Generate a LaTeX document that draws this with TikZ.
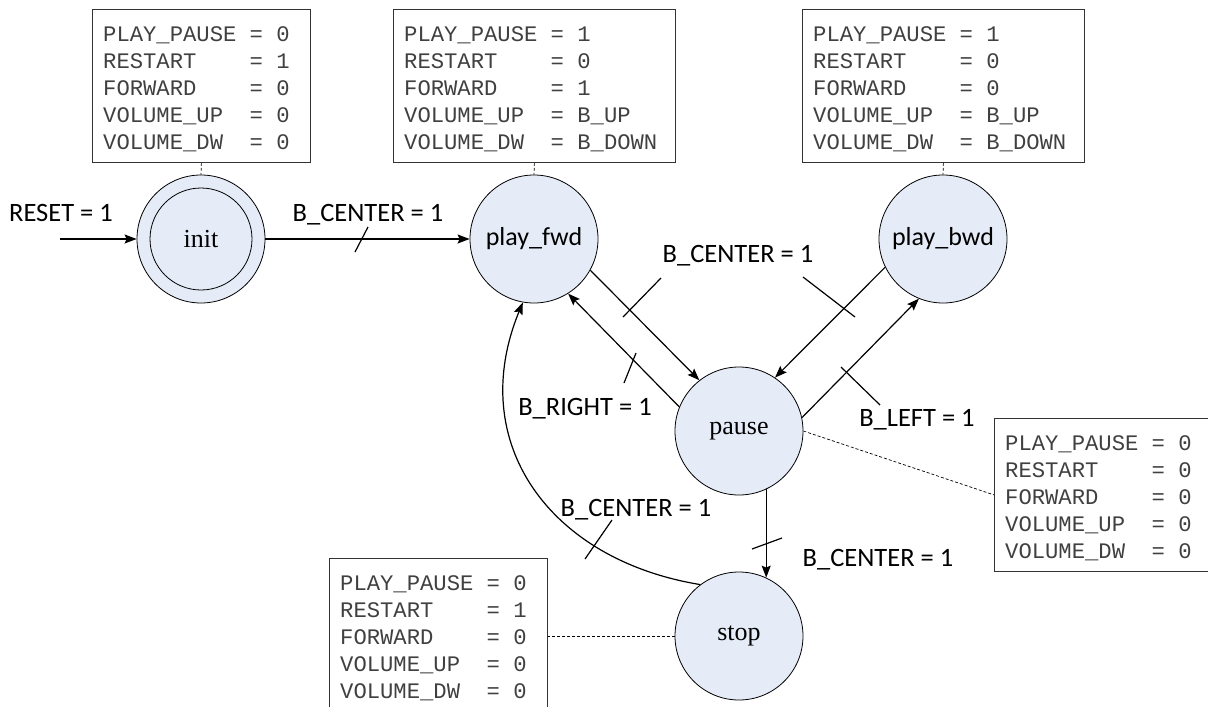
\documentclass[tikz,border=0pt]{standalone}
\usepackage{fontspec}
\setmainfont{Liberation Serif}
\newfontfamily\calib{Carlito}
\newfontfamily\cour{Liberation Mono}
\usetikzlibrary{arrows.meta}
\definecolor{stfill}{RGB}{230,236,247}
\begin{document}
\begin{tikzpicture}[x=1pt,y=-1pt,
  state/.style={circle, draw=black, line width=0.8pt, fill=stfill, minimum size=128pt, inner sep=0pt},
  serifl/.style={font=\fontsize{26}{30}\selectfont},
  sansl/.style={font=\calib\fontsize{26}{30}\selectfont},
  outbox/.style={draw=black!80, line width=0.8pt, minimum width=#1, minimum height=153pt, anchor=north west, inner sep=0pt},
  outtxt/.style={anchor=north west, inner sep=0pt, align=left, text=black!75, font=\cour\fontsize{22.2}{27}\selectfont},
  trans/.style={line width=1.2pt, -{Stealth[length=12pt,width=9pt,inset=2pt]}},
  tickline/.style={line width=1.2pt},
  lbl/.style={font=\calib\fontsize{26.5}{30}\selectfont, inner sep=0pt, anchor=base},
  note/.style={dash pattern=on 3pt off 2pt, line width=0.7pt}
]
\useasboundingbox (0,0) rectangle (1208,707);
\clip (0,0) rectangle (1208,707);

% output boxes
\node[outbox=218pt] (initbox) at (92,9) {};
\node[outtxt] (initt) at (103,26) {PLAY\_PAUSE = 0\\RESTART\ \ \ \ = 1\\FORWARD\ \ \ \ = 0\\VOLUME\_UP\ \ = 0\\VOLUME\_DW\ \ = 0};
\node[outbox=282pt] (fwdbox) at (393,9) {};
\node[outtxt] (fwdt) at (404,26) {PLAY\_PAUSE = 1\\RESTART\ \ \ \ = 0\\FORWARD\ \ \ \ = 1\\VOLUME\_UP\ \ = B\_UP\\VOLUME\_DW\ \ = B\_DOWN};
\node[outbox=282pt] (bwdbox) at (802,9) {};
\node[outtxt] (bwdt) at (813,26) {PLAY\_PAUSE = 1\\RESTART\ \ \ \ = 0\\FORWARD\ \ \ \ = 0\\VOLUME\_UP\ \ = B\_UP\\VOLUME\_DW\ \ = B\_DOWN};
\node[outbox=218pt] (pausebox) at (994,418) {};
\node[outtxt] (pauset) at (1005,435) {PLAY\_PAUSE = 0\\RESTART\ \ \ \ = 0\\FORWARD\ \ \ \ = 0\\VOLUME\_UP\ \ = 0\\VOLUME\_DW\ \ = 0};
\node[outbox=218pt] (stopbox) at (329,558) {};
\node[outtxt] (stopt) at (340,575) {PLAY\_PAUSE = 0\\RESTART\ \ \ \ = 1\\FORWARD\ \ \ \ = 0\\VOLUME\_UP\ \ = 0\\VOLUME\_DW\ \ = 0};

% states
\node[state, serifl] (init) at (201,239) {init};
\draw[line width=0.8pt] (init.center) circle[radius=51pt];
\node[state, sansl] (fwd) at (534,239) {play\_fwd};
\node[state, sansl] (bwd) at (943,239) {play\_bwd};
\node[state, serifl] (pause) at (739,431) {pause};
\node[state, serifl] (stop) at (739,636) {stop};

% dashed notes
\draw[note] (initbox.south) -- (init.north);
\draw[note] (fwdbox.south) -- (fwd.north);
\draw[note] (bwdbox.south) -- (bwd.north);
\draw[note] (pause.east) -- (pausebox.west);
\draw[note] (stop.west) -- (stop.west -| stopbox.east);

% transitions
\coordinate (rst) at (60,239);
\draw[trans] (rst) -- (init);
\draw[trans] (init) -- (fwd);
\draw[trans] (fwd.-29) -- (pause.128);
\draw[trans] (pause.158) -- (fwd.-58);
\draw[trans] (bwd.206) -- (pause.56);
\draw[trans] (pause.12) -- (bwd.248);
\draw[trans] (pause.-65) -- (stop.65);
\draw[trans] (stop.127) .. controls (550,560) and (465,443) .. (fwd.260);

% label leader ticks
\draw[tickline] (355,252) -- (368,227);
\draw[tickline] (661,278) -- (623,317);
\draw[tickline] (803,277) -- (855,317);
\draw[tickline] (636,353) -- (624,383);
\draw[tickline] (841,367) -- (880,405);
\draw[tickline] (612,520) -- (585,559);
\draw[tickline] (752,549) -- (782,538);

% labels
\node[lbl] (lrst) at (61,221) {RESET = 1};
\node[lbl] (l1) at (368,221) {B\_CENTER = 1};
\node[lbl] (l2) at (738,262) {B\_CENTER = 1};
\node[lbl] (l3) at (585,415) {B\_RIGHT = 1};
\node[lbl] (l4) at (917,426) {B\_LEFT = 1};
\node[lbl] (l5) at (636,516) {B\_CENTER = 1};
\node[lbl] (l6) at (878,566) {B\_CENTER = 1};
\end{tikzpicture}
\end{document}
